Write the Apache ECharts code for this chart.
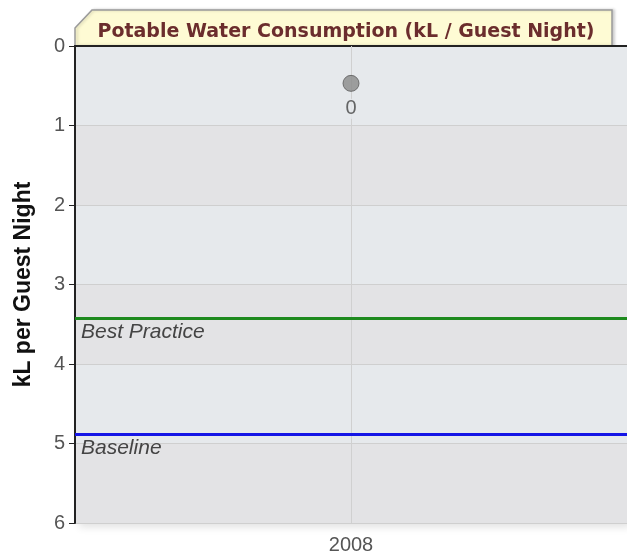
<!DOCTYPE html>
<html>
<head>
<meta charset="utf-8">
<script src="https://cdn.jsdelivr.net/npm/echarts@6/dist/echarts.min.js"></script>
<style>
  html, body { margin: 0; padding: 0; background: #fff; }
  #chart { width: 627px; height: 556px; }
</style>
</head>
<body>
<div id="chart"></div>
<script>
// Potable water use per guest night, with reference levels
const years = ['2008'];
const consumption = [0.47];
const bestPractice = 3.42;
const baseline = 4.88;
const yTicks = [0, 1, 2, 3, 4, 5, 6];

const labelFont = 'Liberation Sans';
const chart = echarts.init(document.getElementById('chart'));

chart.setOption({
  animation: false,
  backgroundColor: '#ffffff',
  title: {
    text: 'Potable Water Consumption (kL / Guest Night)',
    left: 341,
    top: 18,
    textAlign: 'center',
    textStyle: {
      fontFamily: 'DejaVu Sans',
      fontWeight: 'bold',
      fontSize: 19,
      color: '#6b2d2d'
    }
  },
  graphic: [{
    type: 'polygon',
    z: -1,
    shape: { points: [[75, 28], [92, 10], [612, 10], [612, 46], [75, 46]] },
    style: {
      fill: '#fefbd4',
      stroke: '#9a9a9a',
      lineWidth: 1.5,
      shadowColor: 'rgba(0,0,0,0.18)',
      shadowBlur: 3,
      shadowOffsetX: 2
    }
  }],
  grid: {
    left: 75, right: 0, top: 46, bottom: 33,
    show: true,
    backgroundColor: '#e4e6e8',
    borderWidth: 0,
    shadowColor: 'rgba(0,0,0,0.12)',
    shadowBlur: 8,
    shadowOffsetX: 4,
    shadowOffsetY: 4
  },
  xAxis: {
    type: 'category',
    data: years,
    boundaryGap: true,
    axisLine: { lineStyle: { color: '#222', width: 2 } },
    axisTick: { alignWithLabel: true, length: 6, lineStyle: { color: '#222' } },
    axisLabel: { color: '#555', fontSize: 20, fontFamily: labelFont, margin: 12 },
    splitLine: { show: false }
  },
  yAxis: {
    type: 'value',
    inverse: true,
    min: yTicks[0],
    max: yTicks[yTicks.length - 1],
    interval: 1,
    name: 'kL per Guest Night',
    nameLocation: 'middle',
    nameGap: 40,
    nameTextStyle: {
      fontFamily: labelFont,
      fontWeight: 'bold',
      fontSize: 23,
      color: '#111'
    },
    axisLine: { show: true, lineStyle: { color: '#222', width: 2 } },
    axisTick: { show: true, length: 6, lineStyle: { color: '#222' } },
    axisLabel: { color: '#555', fontSize: 20, fontFamily: labelFont, margin: 10 },
    splitLine: { show: true, lineStyle: { color: '#cfcfcf', width: 1 } },
    splitArea: { show: true, areaStyle: { color: ['#e6e9ec', '#e3e3e5'] } }
  },
  series: [
    {
      // reference lines, drawn beneath the data point
      type: 'line',
      data: [],
      z: 1,
      silent: true,
      markLine: {
        silent: true,
        symbol: 'none',
        data: [
          {
            xAxis: years[0],
            lineStyle: { color: '#d0d0d0', width: 1, type: 'solid' },
            label: { show: false }
          },
          {
            yAxis: bestPractice,
            lineStyle: { color: '#1e8a1e', width: 3, type: 'solid' },
            label: {
              show: true,
              position: 'insideStartBottom',
              formatter: 'Best Practice',
              color: '#444',
              fontStyle: 'italic',
              fontSize: 21,
              fontFamily: labelFont,
              distance: [6, 4]
            }
          },
          {
            yAxis: baseline,
            lineStyle: { color: '#1515e6', width: 3, type: 'solid' },
            label: {
              show: true,
              position: 'insideStartBottom',
              formatter: 'Baseline',
              color: '#444',
              fontStyle: 'italic',
              fontSize: 21,
              fontFamily: labelFont,
              distance: [6, 4]
            }
          }
        ]
      }
    },
    {
      type: 'scatter',
      data: consumption,
      z: 5,
      symbol: 'circle',
      symbolSize: 16,
      itemStyle: { color: '#8a8a8a', borderColor: '#5a5a5a', borderWidth: 1 },
      label: {
        show: true,
        position: 'bottom',
        distance: 7,
        formatter: p => String(Math.round(p.value)),
        color: '#444',
        fontSize: 20,
        fontFamily: labelFont,
        backgroundColor: '#e6e9ec'
      }
    }
  ]
});
</script>
</body>
</html>
